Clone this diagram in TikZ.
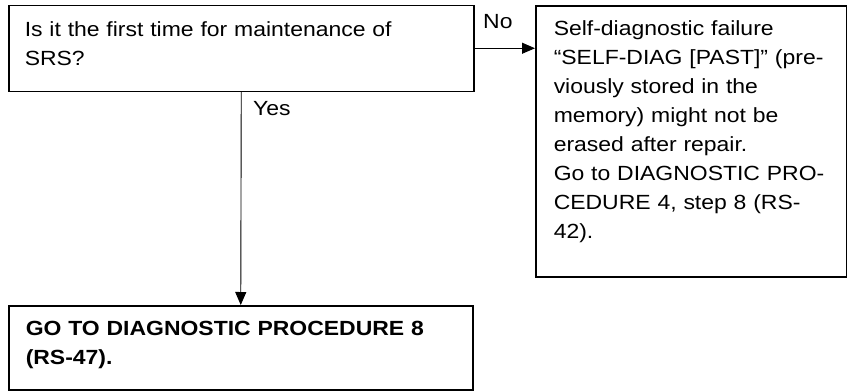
\documentclass[tikz,border=0pt]{standalone}
\usepackage{fontspec}
\setmainfont{Liberation Sans}[FakeStretch=1.12]
\usetikzlibrary{arrows.meta}

\begin{document}
\begin{tikzpicture}[
  x=1pt,
  y=-1pt,
  box/.style={
    draw,
    line width=1.5pt,
    anchor=north west,
    align=left,
    inner ysep=0pt,
    font=\fontsize{20.5}{29}\selectfont
  },
  edge/.style={
    -{Triangle[length=13pt,width=11pt]},
    line width=0.9pt
  },
  answer/.style={
    inner sep=0pt,
    anchor=base west,
    font=\fontsize{20.5}{29}\selectfont
  }
]

\path[use as bounding box] (0,0) rectangle (847,391);

\node[box, inner xsep=16pt, text width=433pt, text height=31.5pt, text depth=54.5pt]
  (question) at (8,4.5) {Is it the first time for maintenance of\\SRS?};
\node[box, inner xsep=18pt, text width=275pt, text height=30pt, text depth=241pt]
  (failure) at (535,5) {Self-diagnostic failure\\“SELF-DIAG [PAST]” (pre-\\viously stored in the\\memory) might not be\\erased after repair.\\Go to DIAGNOSTIC PRO-\\CEDURE 4, step 8 (RS-\\42).};
\node[box, font=\fontsize{20.5}{29}\selectfont\bfseries, inner xsep=17pt, text width=430pt, text height=30pt, text depth=54pt]
  (goto) at (8,305) {GO TO DIAGNOSTIC PROCEDURE 8\\(RS-47).};

\draw[edge] (question.east) -- (question.east -| failure.west);
\draw[edge] (question.south) -- (goto.north);

\node[answer] (no)  at (483,28)  {No};
\node[answer] (yes) at (253,115) {Yes};

\end{tikzpicture}
\end{document}
